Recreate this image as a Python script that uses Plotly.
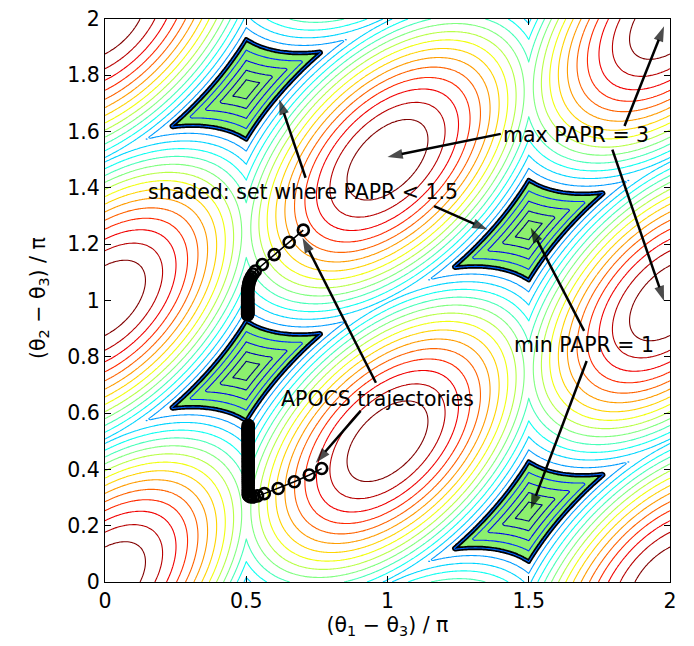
import numpy as np
import plotly.graph_objects as go

# ---- data -----------------------------------------------------------------
# three tones on a 4-point DFT grid: bins for theta1, theta2, theta3
n_samples = 4
tone_bins = [1, 0, 3]
grid_points = 301                      # phase grid along each axis (0..2 pi)
level_start, level_end, level_step = 1.1, 2.9, 0.1
shade_level = 1.5
color_min, color_max = 1.0, 3.0

x_ticks = [0, 0.5, 1, 1.5, 2]
y_ticks = [0, 0.2, 0.4, 0.6, 0.8, 1, 1.2, 1.4, 1.6, 1.8, 2]
x_tick_labels = ["0", "0.5", "1", "1.5", "2"]
y_tick_labels = ["0", "0.2", "0.4", "0.6", "0.8", "1", "1.2", "1.4", "1.6", "1.8", "2"]

# APOCS trajectories (units of pi)
traj_upper_x = [0.702, 0.652, 0.599, 0.557, 0.532, 0.524, 0.518, 0.514, 0.511, 0.509,
                0.508, 0.507, 0.506, 0.505, 0.505, 0.505, 0.505, 0.505, 0.505, 0.505,
                0.505, 0.505, 0.505, 0.505, 0.505, 0.505, 0.505, 0.505, 0.505, 0.505,
                0.505, 0.505, 0.505, 0.505, 0.505, 0.505, 0.505, 0.505, 0.505, 0.505,
                0.505, 0.505, 0.505, 0.505, 0.505]
traj_upper_y = [1.250, 1.207, 1.163, 1.128, 1.105, 1.094, 1.084, 1.075, 1.067, 1.060,
                1.053, 1.047, 1.041, 1.036, 1.031, 1.026, 1.022, 1.018, 1.014, 1.010,
                1.006, 1.003, 1.000, 0.997, 0.994, 0.991, 0.988, 0.985, 0.983, 0.980,
                0.978, 0.975, 0.973, 0.971, 0.969, 0.967, 0.965, 0.963, 0.961, 0.959,
                0.957, 0.955, 0.953, 0.951, 0.949]

traj_lower_x = [0.767, 0.723, 0.670, 0.613, 0.564, 0.540, 0.525, 0.516, 0.511, 0.508,
                0.507, 0.507, 0.507, 0.507, 0.507, 0.507, 0.507, 0.507, 0.507, 0.507,
                0.507, 0.507, 0.507, 0.507, 0.507, 0.507, 0.507, 0.507, 0.507, 0.507,
                0.507, 0.507, 0.507, 0.507, 0.507, 0.507, 0.507, 0.507, 0.507, 0.507,
                0.507, 0.507, 0.507, 0.507, 0.507, 0.507, 0.507, 0.507, 0.507, 0.507,
                0.507, 0.507, 0.507, 0.507, 0.507, 0.507, 0.507, 0.507, 0.507, 0.507,
                0.507, 0.507, 0.507, 0.507]
traj_lower_y = [0.403, 0.380, 0.356, 0.332, 0.314, 0.306, 0.302, 0.302, 0.305, 0.308,
                0.311, 0.319, 0.327, 0.335, 0.343, 0.351, 0.358, 0.365, 0.372, 0.379,
                0.386, 0.392, 0.398, 0.404, 0.410, 0.416, 0.422, 0.427, 0.432, 0.437,
                0.442, 0.447, 0.452, 0.457, 0.462, 0.466, 0.470, 0.474, 0.478, 0.482,
                0.486, 0.490, 0.494, 0.498, 0.502, 0.505, 0.508, 0.511, 0.514, 0.517,
                0.520, 0.523, 0.526, 0.529, 0.532, 0.535, 0.537, 0.540, 0.542, 0.545,
                0.547, 0.550, 0.552, 0.557]

# ---- PAPR surface -----------------------------------------------------------
phi = np.linspace(0.0, 2.0, grid_points)
P1, P2 = np.meshgrid(phi, phi)
n = np.arange(n_samples).reshape(-1, 1, 1)
k1, k2, k3 = tone_bins
sig = (np.exp(1j * np.pi * P1) * np.exp(2j * np.pi * k1 * n / n_samples)
       + np.exp(1j * np.pi * P2) * np.exp(2j * np.pi * k2 * n / n_samples)
       + np.exp(2j * np.pi * k3 * n / n_samples))
papr = (np.abs(sig) ** 2).max(axis=0) / len(tone_bins)
papr = np.round(papr, 4)

jet = [[0.0, "rgb(0,0,128)"], [0.125, "rgb(0,0,255)"], [0.375, "rgb(0,255,255)"],
       [0.625, "rgb(255,255,0)"], [0.875, "rgb(255,0,0)"], [1.0, "rgb(128,0,0)"]]

FONT = "DejaVu Sans, Arial, Helvetica, sans-serif"
FS = 20.5

fig = go.Figure()
# shaded set (Plotly's constraint fill shades the complement of the kept region)
fig.add_trace(go.Contour(
    x=phi, y=phi, z=papr, showscale=False, hoverinfo="skip",
    contours=dict(type="constraint", operation=">", value=shade_level),
    fillcolor="rgb(140,240,110)",
    line=dict(color="black", width=4.5),
))
fig.add_trace(go.Contour(
    x=phi, y=phi, z=papr, showscale=False, hoverinfo="skip",
    zmin=color_min, zmax=color_max, zauto=False, colorscale=jet,
    contours=dict(coloring="lines", start=level_start, end=level_end + 1e-6,
                  size=level_step, showlabels=False),
    line=dict(width=1.1, smoothing=0.6),
))
for tx, ty in [(traj_upper_x, traj_upper_y), (traj_lower_x, traj_lower_y)]:
    fig.add_trace(go.Scatter(
        x=tx, y=ty, mode="lines+markers", hoverinfo="skip",
        line=dict(color="black", width=1.5),
        marker=dict(symbol="circle-open", size=11, color="black",
                    line=dict(width=2.6, color="black")),
    ))

labels = [
    ("max PAPR = 3", 1.669, 1.588),
    ("shaded: set where PAPR < 1.5", 0.700, 1.385),
    ("min PAPR = 1", 1.696, 0.842),
    ("APOCS trajectories", 0.965, 0.651),
]
# arrows: (tip x, tip y, tail x, tail y)
arrows = [
    (1.0, 1.51, 1.401, 1.592),
    (1.979, 1.974, 1.839, 1.620),
    (1.979, 0.998, 1.796, 1.536),
    (0.617, 1.714, 0.710, 1.436),
    (1.354, 1.252, 1.165, 1.335),
    (1.507, 1.258, 1.696, 0.892),
    (1.507, 0.258, 1.705, 0.785),
    (0.699, 1.223, 0.959, 0.708),
    (0.746, 0.424, 0.905, 0.608),
]
for x, y, ax, ay in arrows:
    fig.add_trace(go.Scatter(
        x=[ax, x], y=[ay, y], mode="lines+markers", hoverinfo="skip",
        line=dict(color="black", width=2.5),
        marker=dict(symbol=["circle", "arrow"], size=[0, 16], angleref="previous",
                    color="black", line=dict(width=0)),
    ))

ann = []
for t, x, y in labels:
    ann.append(dict(text=t, x=x, y=y, xref="x", yref="y", showarrow=False,
                    font=dict(family=FONT, size=FS, color="black")))
ann.append(dict(text="(θ<sub>2</sub> − θ<sub>3</sub>) / π", xref="paper", yref="paper",
                x=-0.118, y=0.505, xanchor="center", yanchor="middle", textangle=-90,
                showarrow=False, font=dict(family=FONT, size=FS, color="black")))

axis_common = dict(showline=True, linecolor="black", linewidth=1, mirror="allticks",
                   ticks="inside", ticklen=6, tickcolor="black", showgrid=False,
                   zeroline=False, ticklabeloverflow="allow", automargin=False,
                   tickfont=dict(family=FONT, size=FS, color="black"))
fig.update_layout(
    width=694, height=646,
    margin=dict(l=97, r=32, t=11, b=72),
    paper_bgcolor="white", plot_bgcolor="white",
    showlegend=False,
    annotations=ann,
    xaxis=dict(range=[0, 2], tickvals=x_ticks, ticktext=x_tick_labels,
               title=dict(text="(θ<sub>1</sub> − θ<sub>3</sub>) / π", standoff=4,
                          font=dict(family=FONT, size=FS, color="black")),
               **axis_common),
    yaxis=dict(range=[0, 2], tickvals=y_ticks, ticktext=y_tick_labels,
               **axis_common),
)
fig.write_html("out.html")
